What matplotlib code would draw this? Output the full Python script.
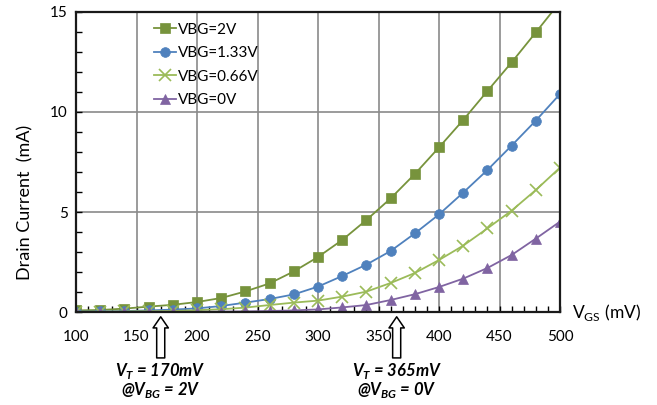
import numpy as np
import matplotlib.pyplot as plt
from matplotlib.ticker import MultipleLocator

plt.rcParams['font.family'] = ['Lato', 'DejaVu Sans']

vgs = [100, 120, 140, 160, 180, 200, 220, 240, 260, 280, 300,
       320, 340, 360, 380, 400, 420, 440, 460, 480, 500]
id_2v = [0.08, 0.10, 0.17, 0.27, 0.36, 0.50, 0.70, 1.03, 1.43, 2.03, 2.75,
         3.60, 4.60, 5.68, 6.90, 8.23, 9.60, 11.05, 12.48, 13.98, 15.5]
id_133v = [0.02, 0.03, 0.05, 0.08, 0.12, 0.18, 0.30, 0.47, 0.65, 0.88, 1.27,
           1.80, 2.37, 3.05, 3.93, 4.88, 5.97, 7.10, 8.32, 9.57, 10.90]
id_066v = [0.01, 0.02, 0.03, 0.04, 0.05, 0.09, 0.14, 0.22, 0.35, 0.47, 0.57,
           0.77, 1.02, 1.45, 1.95, 2.60, 3.32, 4.18, 5.07, 6.10, 7.22]
id_0v = [0.0, 0.0, 0.0, 0.01, 0.01, 0.01, 0.02, 0.03, 0.05, 0.08, 0.13,
         0.23, 0.35, 0.60, 0.89, 1.25, 1.67, 2.20, 2.85, 3.67, 4.52]

labels = ["VBG=2V", "VBG=1.33V", "VBG=0.66V", "VBG=0V"]
colors = ["#77933C", "#4F81BD", "#9BBB59", "#8064A2"]
markers = ["s", "o", "x", "^"]

vt_pos = [170, 365]
vt_line1 = ["V$_\\mathregular{T}$ = 170mV", "V$_\\mathregular{T}$ = 365mV"]
vt_line2 = ["@V$_\\mathregular{BG}$ = 2V", "@V$_\\mathregular{BG}$ = 0V"]


def main():
  fig = plt.figure(figsize=(6.57, 4.05), dpi=100)
  ax = fig.add_axes([0.1157, 0.2296, 0.7367, 0.7408])

  series = [id_2v, id_133v, id_066v, id_0v]
  for y, lab, c, m in zip(series, labels, colors, markers):
    ms = 7 if m != "x" else 8
    ax.plot(vgs, y, color=c, marker=m, markersize=ms, lw=1.3,
            mew=1.2 if m == "x" else 0.5, mec=c, label=lab, clip_on=True)

  ax.set_xlim(100, 500)
  ax.set_ylim(0, 15)
  ax.xaxis.set_major_locator(MultipleLocator(50))
  ax.xaxis.set_minor_locator(MultipleLocator(10))
  ax.yaxis.set_major_locator(MultipleLocator(5))
  ax.yaxis.set_minor_locator(MultipleLocator(1))
  ax.tick_params(which="both", direction="in", length=4, width=1,
                 labelsize=11, colors="black")
  ax.tick_params(axis="x", pad=13)
  ax.tick_params(axis="y", pad=6)
  ax.grid(which="major", color="#8a8a8a", lw=1.2)
  for s in ax.spines.values():
    s.set_linewidth(1.6)
    s.set_color("#1a1a1a")

  ax.set_ylabel("Drain Current  (mA)", fontsize=13)
  ax.yaxis.set_label_coords(-0.088, 0.365)
  ax.text(1.025, 0.0, "V$_\\mathregular{GS}$ (mV)", transform=ax.transAxes,
          fontsize=12.5, va="center", ha="left")

  ax.legend(loc="upper left", bbox_to_anchor=(0.138, 1.0), frameon=False,
            fontsize=11, handlelength=1.5, handletextpad=0.1,
            labelspacing=0.62, borderaxespad=0.3)

  for x, t1, t2 in zip(vt_pos, vt_line1, vt_line2):
    ax.annotate("", xy=(x, -0.016), xytext=(x, -0.153),
                xycoords=("data", "axes fraction"),
                textcoords=("data", "axes fraction"),
                arrowprops=dict(arrowstyle="simple,head_length=0.8,head_width=1.1,tail_width=0.58",
                                mutation_scale=10, fc="white", ec="black",
                                lw=1.1, shrinkA=0, shrinkB=0),
                annotation_clip=False)
    ax.text(x, -0.197, t1, transform=ax.get_xaxis_transform(), ha="center",
            va="center", fontsize=12, fontweight="bold", style="italic")
    ax.text(x, -0.26, t2, transform=ax.get_xaxis_transform(), ha="center",
            va="center", fontsize=12, fontweight="bold", style="italic")

  fig.savefig("out.png", dpi=100)

if __name__ == '__main__':
  main()
